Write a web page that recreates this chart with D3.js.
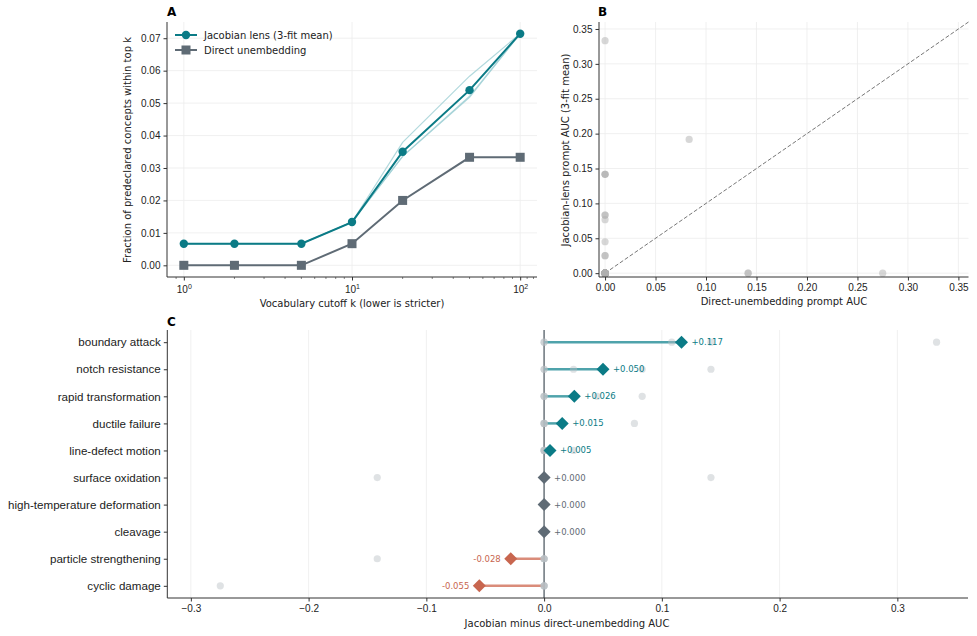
<!DOCTYPE html>
<html>
<head>
<meta charset="utf-8">
<script src="https://cdn.jsdelivr.net/npm/d3@7"></script>
<style>
  body { margin: 0; background: #fff; }
  svg { font-family: "DejaVu Sans", sans-serif; }
  .tick text { fill: #222; }
  .axis path, .axis line { stroke: #333; }
</style>
</head>
<body>
<svg id="chart"></svg>
<script>
// ---- data ----
const cutoffs = [1, 2, 5, 10, 20, 50, 100];
const jacobianMean = [0.00667, 0.00667, 0.00667, 0.01333, 0.035, 0.054, 0.0714];
const directFrac = [0, 0, 0, 0.00667, 0.02, 0.0333, 0.0333];
const fit1 = [0.00667, 0.00667, 0.00667, 0.01333, 0.0379, 0.0583, 0.0714];
const fit2 = [0.00667, 0.00667, 0.00667, 0.01333, 0.0336, 0.0518, 0.0714];
const fit3 = [0.00667, 0.00667, 0.00667, 0.01333, 0.0336, 0.0521, 0.0714];

const concepts = ["boundary attack", "notch resistance", "rapid transformation", "ductile failure",
  "line-defect motion", "surface oxidation", "high-temperature deformation", "cleavage",
  "particle strengthening", "cyclic damage"];
// per-prompt AUCs, 5 prompts per concept
const directAuc = [
  [0, 0, 0.0833, 0, 0],
  [0, 0, 0, 0, 0],
  [0, 0, 0, 0, 0],
  [0, 0, 0, 0, 0],
  [0, 0, 0, 0, 0],
  [0.1417, 0, 0, 0, 0],
  [0, 0, 0, 0, 0],
  [0, 0, 0, 0, 0],
  [0.1417, 0, 0, 0, 0],
  [0.275, 0, 0, 0, 0]
];
const jacobianAuc = [
  [0, 0, 0.1917, 0.1417, 0.3333],
  [0, 0, 0.025, 0.0833, 0.1417],
  [0, 0, 0, 0.045, 0.0833],
  [0, 0, 0, 0, 0.0767],
  [0, 0, 0, 0, 0.025],
  [0, 0.1417, 0, 0, 0],
  [0, 0, 0, 0, 0],
  [0, 0, 0, 0, 0],
  [0, 0, 0, 0, 0],
  [0, 0, 0, 0, 0]
];

const teal = "#0b7b86", slate = "#5f6b75", coral = "#c8664f";
const W = 977, H = 636;
const svg = d3.select("#chart").attr("width", W).attr("height", H);

// ---- panel A ----
const aX = d3.scaleLog().domain([Math.pow(10, -0.1), Math.pow(10, 2.1)]).range([167, 537]);
const aY = d3.scaleLinear().domain([-0.0036, 0.075]).range([277, 22]);
const gA = svg.append("g");

// grid
gA.selectAll(".gx").data([1, 10, 100]).join("line")
  .attr("x1", d => aX(d)).attr("x2", d => aX(d)).attr("y1", 22).attr("y2", 277)
  .attr("stroke", "#ececec").attr("stroke-width", 0.8);
gA.selectAll(".gy").data(d3.range(0, 0.0701, 0.01)).join("line")
  .attr("x1", 167).attr("x2", 537).attr("y1", d => aY(d)).attr("y2", d => aY(d))
  .attr("stroke", "#ececec").attr("stroke-width", 0.8);

const xAxisA = d3.axisBottom(aX).tickValues([1, 10, 100]).tickSize(3.5).tickFormat(() => "");
const gxA = gA.append("g").attr("class", "axis").attr("transform", "translate(0,277)").call(xAxisA);
gxA.select(".domain").attr("d", "M167,0H537");
// minor ticks
const minors = [];
[1, 10].forEach(b => d3.range(2, 10).forEach(m => minors.push(b * m)));
minors.push(0.9, 110, 120);
gxA.selectAll(".minor").data(minors.filter(d => aX(d) >= 167 && aX(d) <= 537)).join("line")
  .attr("x1", d => aX(d)).attr("x2", d => aX(d)).attr("y1", 0).attr("y2", 2)
  .attr("stroke", "#333").attr("stroke-width", 0.6);
gxA.selectAll(".tick").each(function (d) {
  const t = d3.select(this).append("text").attr("y", 16).attr("text-anchor", "middle")
    .attr("fill", "#222").attr("font-size", 10);
  t.append("tspan").text("10");
  t.append("tspan").attr("dy", -4).attr("font-size", 7).text(Math.round(Math.log10(d)));
});
const yAxisA = d3.axisLeft(aY).tickValues(d3.range(0, 0.0701, 0.01)).tickSize(3.5).tickFormat(d3.format(".2f"));
const gyA = gA.append("g").attr("class", "axis").attr("transform", "translate(167,0)").call(yAxisA);
gyA.select(".domain").attr("d", "M0,22V277");
gyA.selectAll("text").attr("font-size", 10);

// fit lines
const lineA = d3.line().x((d, i) => aX(cutoffs[i])).y(d => aY(d));
[fit1, fit2, fit3].forEach(f => {
  gA.append("path").attr("d", lineA(f)).attr("fill", "none")
    .attr("stroke", "#9fd0d4").attr("stroke-width", 1.2).attr("opacity", 0.8);
});
gA.append("path").attr("d", lineA(directFrac)).attr("fill", "none").attr("stroke", slate).attr("stroke-width", 2);
gA.selectAll(".sq").data(directFrac).join("rect")
  .attr("x", (d, i) => aX(cutoffs[i]) - 4.5).attr("y", d => aY(d) - 4.5)
  .attr("width", 9).attr("height", 9).attr("fill", slate);
gA.append("path").attr("d", lineA(jacobianMean)).attr("fill", "none").attr("stroke", teal).attr("stroke-width", 2);
gA.selectAll(".ci").data(jacobianMean).join("circle")
  .attr("cx", (d, i) => aX(cutoffs[i])).attr("cy", d => aY(d)).attr("r", 4.2).attr("fill", teal);

// legend
const leg = gA.append("g").attr("transform", "translate(175,35)");
leg.append("line").attr("x1", 0).attr("x2", 22).attr("stroke", teal).attr("stroke-width", 2);
leg.append("circle").attr("cx", 11).attr("r", 4.2).attr("fill", teal);
leg.append("text").attr("x", 29).attr("y", 4).attr("font-size", 10).attr("fill", "#222").text("Jacobian lens (3-fit mean)");
leg.append("line").attr("x1", 0).attr("x2", 22).attr("y1", 15).attr("y2", 15).attr("stroke", slate).attr("stroke-width", 2);
leg.append("rect").attr("x", 6.5).attr("y", 10.5).attr("width", 9).attr("height", 9).attr("fill", slate);
leg.append("text").attr("x", 29).attr("y", 19).attr("font-size", 10).attr("fill", "#222").text("Direct unembedding");

gA.append("text").attr("x", 352).attr("y", 307).attr("text-anchor", "middle").attr("font-size", 10).attr("fill", "#222")
  .text("Vocabulary cutoff k (lower is stricter)");
gA.append("text").attr("transform", "translate(131,150) rotate(-90)").attr("text-anchor", "middle")
  .attr("font-size", 10).attr("fill", "#222").text("Fraction of predeclared concepts within top k");
gA.append("text").attr("x", 167).attr("y", 16).attr("font-size", 12).attr("font-weight", "bold").text("A");

// ---- panel B ----
const bX = d3.scaleLinear().domain([-0.006, 0.36]).range([599, 968.5]);
const bY = d3.scaleLinear().domain([-0.0055, 0.36]).range([277, 22]);
const gB = svg.append("g");
const bTicks = d3.range(0, 0.351, 0.05);
gB.selectAll(".gx").data(bTicks).join("line")
  .attr("x1", d => bX(d)).attr("x2", d => bX(d)).attr("y1", 22).attr("y2", 277)
  .attr("stroke", "#ececec").attr("stroke-width", 0.8);
gB.selectAll(".gy").data(bTicks).join("line")
  .attr("x1", 599).attr("x2", 968.5).attr("y1", d => bY(d)).attr("y2", d => bY(d))
  .attr("stroke", "#ececec").attr("stroke-width", 0.8);
gB.append("line").attr("x1", bX(0)).attr("y1", bY(0)).attr("x2", bX(0.36)).attr("y2", bY(0.36))
  .attr("stroke", "#777").attr("stroke-width", 1).attr("stroke-dasharray", "4,2");
const pairs = [];
directAuc.forEach((row, i) => row.forEach((d, j) => pairs.push([d, jacobianAuc[i][j]])));
gB.selectAll(".pt").data(pairs).join("circle")
  .attr("cx", d => bX(d[0])).attr("cy", d => bY(d[1])).attr("r", 3.6)
  .attr("fill", "#b0b0b0").attr("opacity", 0.5);
const gxB = gB.append("g").attr("class", "axis").attr("transform", "translate(0,277)")
  .call(d3.axisBottom(bX).tickValues(bTicks).tickSize(3.5).tickFormat(d3.format(".2f")));
gxB.select(".domain").attr("d", "M599,0H968.5");
gxB.selectAll("text").attr("font-size", 10);
const gyB = gB.append("g").attr("class", "axis").attr("transform", "translate(599,0)")
  .call(d3.axisLeft(bY).tickValues(bTicks).tickSize(3.5).tickFormat(d3.format(".2f")));
gyB.select(".domain").attr("d", "M0,22V277");
gyB.selectAll("text").attr("font-size", 10);
gB.append("text").attr("x", 784).attr("y", 305).attr("text-anchor", "middle").attr("font-size", 10).attr("fill", "#222")
  .text("Direct-unembedding prompt AUC");
gB.append("text").attr("transform", "translate(569,150) rotate(-90)").attr("text-anchor", "middle")
  .attr("font-size", 10).attr("fill", "#222").text("Jacobian-lens prompt AUC (3-fit mean)");
gB.append("text").attr("x", 598).attr("y", 16).attr("font-size", 12).attr("font-weight", "bold").text("B");

// ---- panel C ----
const cX = d3.scaleLinear().domain([-0.32, 0.36]).range([167.3, 968]);
const cY = d3.scaleLinear().domain([-0.45, 9.45]).range([330, 598]);
const gC = svg.append("g");
const cTicks = [-0.3, -0.2, -0.1, 0, 0.1, 0.2, 0.3];
gC.selectAll(".gx").data(cTicks).join("line")
  .attr("x1", d => cX(d)).attr("x2", d => cX(d)).attr("y1", 330).attr("y2", 598)
  .attr("stroke", "#ececec").attr("stroke-width", 0.8);
gC.append("line").attr("x1", cX(0)).attr("x2", cX(0)).attr("y1", 330).attr("y2", 598)
  .attr("stroke", "#6c757d").attr("stroke-width", 1.5);

const diffs = concepts.map((c, i) => jacobianAuc[i].map((v, j) => v - directAuc[i][j]));
const means = diffs.map(d => d3.mean(d));
const colorOf = m => m > 0.0005 ? teal : (m < -0.0005 ? coral : slate);
const stemOf = m => m > 0.0005 ? "#3d9aa3" : "#d6806c";

gC.selectAll(".stem").data(means).join("line")
  .attr("x1", cX(0)).attr("x2", d => cX(d)).attr("y1", (d, i) => cY(i)).attr("y2", (d, i) => cY(i))
  .attr("stroke", d => stemOf(d)).attr("stroke-width", 2.5).attr("opacity", d => Math.abs(d) > 0.0005 ? 0.9 : 0);
const dots = [];
diffs.forEach((row, i) => row.forEach(v => dots.push([i, v])));
gC.selectAll(".dot").data(dots).join("circle")
  .attr("cx", d => cX(d[1])).attr("cy", d => cY(d[0])).attr("r", 3.6)
  .attr("fill", "#b8bec4").attr("opacity", 0.45);
const diamond = s => `M0,${-s}L${s},0L0,${s}L${-s},0Z`;
gC.selectAll(".dm").data(means).join("path")
  .attr("transform", (d, i) => `translate(${cX(d)},${cY(i)})`)
  .attr("d", diamond(6.5)).attr("fill", d => colorOf(d));
gC.selectAll(".lbl").data(means).join("text")
  .attr("x", d => d < -0.0005 ? cX(d) - 10 : cX(d) + 10).attr("y", (d, i) => cY(i) + 3)
  .attr("text-anchor", d => d < -0.0005 ? "end" : "start")
  .attr("font-size", 8.5).attr("fill", d => colorOf(d))
  .text(d => (d < -0.0005 ? "-" : "+") + Math.abs(d).toFixed(3));

const gxC = gC.append("g").attr("class", "axis").attr("transform", "translate(0,598)")
  .call(d3.axisBottom(cX).tickValues(cTicks).tickSize(3.5).tickFormat(d => d3.format(".1f")(d).replace("-", "\u2212")));
gxC.select(".domain").attr("d", "M167.3,0H968");
gxC.selectAll("text").attr("font-size", 10);
const gyC = gC.append("g").attr("class", "axis").attr("transform", "translate(167.3,0)")
  .call(d3.axisLeft(cY).tickValues(d3.range(10)).tickSize(3.5).tickFormat(i => concepts[i]));
gyC.select(".domain").attr("d", "M0,330V598");
gyC.selectAll("text").attr("font-size", 11.6);
gC.append("text").attr("x", 567).attr("y", 627).attr("text-anchor", "middle").attr("font-size", 10).attr("fill", "#222")
  .text("Jacobian minus direct-unembedding AUC");
gC.append("text").attr("x", 167).attr("y", 326).attr("font-size", 12).attr("font-weight", "bold").text("C");
</script>
</body>
</html>
